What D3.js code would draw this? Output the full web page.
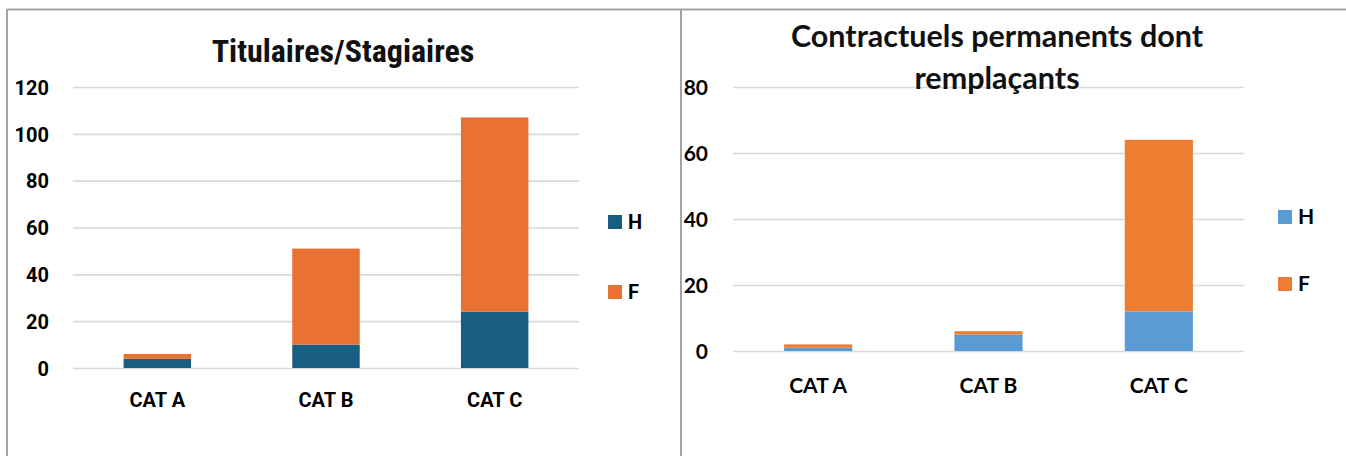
<!DOCTYPE html>
<html>
<head>
<meta charset="utf-8">
<script src="https://cdn.jsdelivr.net/npm/d3@7"></script>
<style>
  html, body { margin: 0; padding: 0; background: #fff; }
  svg { display: block; }
</style>
</head>
<body>
<svg id="chart" width="1346" height="456"></svg>
<script>
// Effectifs par catégorie, hommes (H) / femmes (F)
const categories = ["CAT A", "CAT B", "CAT C"];
const seriesKeys = ["H", "F"];

// Titulaires / stagiaires
const titulairesH = [4, 10, 24];
const titulairesF = [2, 41, 83];
const titulairesTicks = [0, 20, 40, 60, 80, 100, 120];

// Contractuels permanents dont remplaçants
const contractuelsH = [1, 5, 12];
const contractuelsF = [1, 1, 52];
const contractuelsTicks = [0, 20, 40, 60, 80];

const svg = d3.select("#chart");

// Panel frames
const frameColor = "#a3a3a3";
svg.append("line").attr("x1", 7).attr("x2", 1346).attr("y1", 9.5).attr("y2", 9.5)
  .attr("stroke", frameColor).attr("stroke-width", 2);
svg.append("line").attr("x1", 7).attr("x2", 7).attr("y1", 9).attr("y2", 456)
  .attr("stroke", frameColor).attr("stroke-width", 2);
svg.append("line").attr("x1", 681).attr("x2", 681).attr("y1", 9).attr("y2", 456)
  .attr("stroke", frameColor).attr("stroke-width", 2);

function drawPanel(cfg) {
  const g = svg.append("g");
  const rows = categories.map((c, i) => ({ cat: c, H: cfg.h[i], F: cfg.f[i] }));
  const stacked = d3.stack().keys(seriesKeys)(rows);

  const x = d3.scaleBand().domain(categories)
    .range([cfg.x0, cfg.x1]).paddingInner(0.6).paddingOuter(0.3);
  const y = d3.scaleLinear().domain([0, cfg.max]).range([cfg.y0, cfg.y1]);
  const color = d3.scaleOrdinal().domain(seriesKeys).range(cfg.colors);

  // Gridlines
  const yAxis = d3.axisLeft(y).tickValues(cfg.ticks).tickSize(-(cfg.x1 - cfg.x0)).tickPadding(cfg.tickPad);
  const ay = g.append("g").attr("transform", `translate(${cfg.x0},0)`).call(yAxis);
  ay.select(".domain").remove();
  ay.selectAll(".tick line").attr("stroke", "#d9d9d9").attr("stroke-width", 1.6);
  ay.selectAll(".tick text")
    .attr("font-family", cfg.font).attr("font-weight", 700)
    .attr("font-size", cfg.tickSize).attr("fill", "#000").attr("dy", "0.36em");

  // Stacked bars
  g.append("g").selectAll("g").data(stacked).join("g")
    .attr("fill", d => color(d.key))
    .selectAll("rect").data(d => d).join("rect")
    .attr("x", d => x(d.data.cat))
    .attr("width", x.bandwidth())
    .attr("y", d => y(d[1]))
    .attr("height", d => y(d[0]) - y(d[1]));

  // Category axis
  const ax = g.append("g").attr("transform", `translate(0,${cfg.y0})`)
    .call(d3.axisBottom(x).tickSize(0).tickPadding(cfg.catPad));
  ax.select(".domain").remove();
  ax.selectAll(".tick text")
    .attr("font-family", cfg.font).attr("font-weight", 700)
    .attr("font-size", cfg.catSize).attr("fill", "#000").attr("dy", 0);

  // Title
  const t = g.append("text")
    .attr("x", cfg.titleX).attr("text-anchor", "middle")
    .attr("font-family", cfg.titleFont).attr("font-weight", 700)
    .attr("font-size", cfg.titleSize).attr("fill", "#111");
  cfg.title.forEach((line, i) => {
    t.append("tspan").attr("x", cfg.titleX).attr("y", cfg.titleY + i * cfg.titleLead).text(line);
  });

  // Legend
  const lg = g.append("g").selectAll("g").data(seriesKeys).join("g")
    .attr("transform", (d, i) => `translate(${cfg.legX},${cfg.legY + i * cfg.legStep})`);
  lg.append("rect").attr("width", 14).attr("height", 14).attr("y", -14)
    .attr("fill", d => color(d));
  lg.append("text").attr("x", 20).attr("y", 0)
    .attr("font-family", cfg.font).attr("font-weight", 700)
    .attr("font-size", cfg.legSize).attr("fill", "#000").text(d => d);
}

drawPanel({
  h: titulairesH, f: titulairesF, ticks: titulairesTicks, max: 120,
  x0: 73, x1: 579, y0: 368, y1: 87,
  colors: ["#185e82", "#e97132"],
  font: "Roboto, sans-serif", tickSize: 20, tickPad: 24, catSize: 20, catPad: 39,
  title: ["Titulaires/Stagiaires"], titleFont: "'Liberation Sans Narrow', 'Roboto Condensed', Roboto, sans-serif",
  titleSize: 32, titleX: 343, titleY: 62, titleLead: 0,
  legX: 608, legY: 229, legStep: 70, legSize: 20
});

drawPanel({
  h: contractuelsH, f: contractuelsF, ticks: contractuelsTicks, max: 80,
  x0: 733, x1: 1244, y0: 351, y1: 87,
  colors: ["#5b9bd5", "#ed7d31"],
  font: "Lato, sans-serif", tickSize: 21, tickPad: 25, catSize: 21, catPad: 42,
  title: ["Contractuels permanents dont", "remplaçants"], titleFont: "Lato, sans-serif",
  titleSize: 30.5, titleX: 997, titleY: 47, titleLead: 42,
  legX: 1278, legY: 224, legStep: 67, legSize: 21
});
</script>
</body>
</html>
